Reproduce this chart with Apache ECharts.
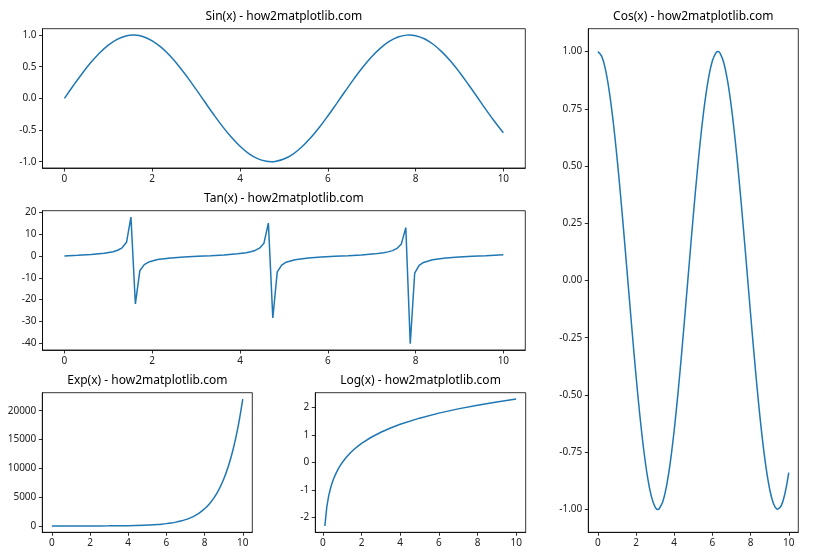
<!DOCTYPE html>
<html>
<head>
<meta charset="utf-8">
<script src="https://cdn.jsdelivr.net/npm/echarts@6.0.0/dist/echarts.min.js"></script>
<style>html,body{margin:0;padding:0;background:#fff}#c{width:840px;height:560px}</style>
</head>
<body>
<div id="c"></div>
<script>
// ---- data ----
const sinX = [0,0.2,0.4,0.6,0.8,1,1.2,1.4,1.5708,1.6,1.8,2,2.2,2.4,2.6,2.8,3,3.2,3.4,3.6,3.8,4,4.2,4.4,4.6,4.7124,4.8,5,5.2,5.4,5.6,5.8,6,6.2,6.4,6.6,6.8,7,7.2,7.4,7.6,7.8,7.854,8,8.2,8.4,8.6,8.8,9,9.2,9.4,9.6,9.8,10];
const sinY = [0,0.1987,0.3894,0.5646,0.7174,0.8415,0.9320,0.9854,1,0.9996,0.9738,0.9093,0.8085,0.6755,0.5155,0.3350,0.1411,-0.0584,-0.2555,-0.4425,-0.6119,-0.7568,-0.8716,-0.9516,-0.9937,-1,-0.9962,-0.9589,-0.8835,-0.7728,-0.6313,-0.4646,-0.2794,-0.0831,0.1165,0.3115,0.4941,0.6570,0.7937,0.8987,0.9679,0.9985,1,0.9894,0.9407,0.8546,0.7344,0.5849,0.4121,0.2229,0.0248,-0.1743,-0.3665,-0.5440];
const cosX = [0,0.2,0.4,0.6,0.8,1,1.2,1.4,1.6,1.8,2,2.2,2.4,2.6,2.8,3,3.1416,3.2,3.4,3.6,3.8,4,4.2,4.4,4.6,4.8,5,5.2,5.4,5.6,5.8,6,6.2,6.2832,6.4,6.6,6.8,7,7.2,7.4,7.6,7.8,8,8.2,8.4,8.6,8.8,9,9.2,9.4,9.4248,9.6,9.8,10];
const cosY = [1,0.9801,0.9211,0.8253,0.6967,0.5403,0.3624,0.1700,-0.0292,-0.2272,-0.4161,-0.5885,-0.7374,-0.8569,-0.9422,-0.9900,-1,-0.9983,-0.9668,-0.8968,-0.7910,-0.6536,-0.4903,-0.3073,-0.1122,0.0875,0.2837,0.4685,0.6347,0.7756,0.8855,0.9602,0.9965,1,0.9932,0.9502,0.8694,0.7539,0.6084,0.4385,0.2513,0.0540,-0.1455,-0.3392,-0.5193,-0.6787,-0.8111,-0.9111,-0.9748,-0.9997,-1,-0.9847,-0.9304,-0.8391];
const tanX = [0,0.3030,0.6061,0.9091,1.1111,1.2121,1.3131,1.4141,1.5152,1.6162,1.7172,1.8182,1.9192,2.1212,2.4242,2.7273,3.0303,3.3333,3.6364,3.9394,4.1414,4.2424,4.3434,4.4444,4.5455,4.6465,4.7475,4.8485,4.9495,5.0505,5.2525,5.5556,5.8586,6.1616,6.4646,6.7677,7.0707,7.2727,7.3737,7.4747,7.5758,7.6768,7.7778,7.8788,7.9798,8.0808,8.1818,8.3838,8.6869,8.9899,9.2929,9.5960,10];
const tanY = [0,0.3128,0.6931,1.2839,2.020,2.670,3.795,6.331,17.95,-22.03,-6.783,-3.959,-2.755,-1.629,-0.8727,-0.440,-0.1118,0.1941,0.540,1.0251,1.5566,1.968,2.587,3.643,5.935,15.14,-28.50,-7.302,-4.138,-2.844,-1.667,-0.891,-0.4521,-0.1222,0.1835,0.5264,1.004,1.522,1.918,2.509,3.501,5.584,13.10,-40.30,-7.906,-4.333,-2.939,-1.705,-0.909,-0.465,-0.1326,0.1729,0.6484];
const expX = [0,1,2,3,4,5,5.25,5.5,5.75,6,6.25,6.5,6.75,7,7.25,7.5,7.75,8,8.25,8.5,8.75,9,9.25,9.5,9.75,10];
const expY = [1,2.718,7.389,20.09,54.60,148.4,190.6,244.7,314.2,403.4,518.0,665.1,854.1,1096.6,1408.1,1808.0,2321.6,2981.0,3827.6,4914.8,6310.7,8103.1,10404.6,13359.7,17154.2,22026.5];
const logX = [0.1,0.2,0.3,0.4,0.5,0.6,0.7,0.8,0.9,1.0,1.2,1.4,1.6,1.8,2.0,2.5,3.0,3.5,4.0,5,6,7,8,9,10];
const logY = [-2.3026,-1.6094,-1.2040,-0.9163,-0.6931,-0.5108,-0.3567,-0.2231,-0.1054,0,0.1823,0.3365,0.4700,0.5878,0.6931,0.9163,1.0986,1.2528,1.3863,1.6094,1.7918,1.9459,2.0794,2.1972,2.3026];

const titles = ['Sin(x) - how2matplotlib.com','Tan(x) - how2matplotlib.com','Exp(x) - how2matplotlib.com','Log(x) - how2matplotlib.com','Cos(x) - how2matplotlib.com'];
const xTicks = [0,2,4,6,8,10];
const sinTicks = [-1,-0.5,0,0.5,1];
const tanTicks = [-40,-30,-20,-10,0,10,20];
const expTicks = [0,5000,10000,15000,20000];
const logTicks = [-2,-1,0,1,2];
const cosTicks = [-1,-0.75,-0.5,-0.25,0,0.25,0.5,0.75,1];

// ---- layout ----
const FONT = '"Noto Sans", "Open Sans", sans-serif';
const panels = [
  {grid:{left:42.5,top:28.7,width:482.8,height:139.3}, xr:[-0.5,10.5], yr:[-1.1,1.1], yt:sinTicks, fmt:v=>v.toFixed(1), data:sinX.map((x,i)=>[x,sinY[i]]), tTop:10.5, smooth:0.4},
  {grid:{left:42.5,top:210.7,width:482.8,height:139.3}, xr:[-0.5,10.5], yr:[-43.21,20.86], yt:tanTicks, fmt:v=>String(v), data:tanX.map((x,i)=>[x,tanY[i]]), tTop:192.5, smooth:false},
  {grid:{left:42.3,top:392.7,width:210,height:139.6}, xr:[-0.5,10.5], yr:[-1101.3,23127], yt:expTicks, fmt:v=>String(v), data:expX.map((x,i)=>[x,expY[i]]), tTop:375, smooth:0.4},
  {grid:{left:315.3,top:392.7,width:210.4,height:139.6}, xr:[-0.395,10.495], yr:[-2.533,2.533], yt:logTicks, fmt:v=>String(v), data:logX.map((x,i)=>[x,logY[i]]), tTop:375, smooth:false},
  {grid:{left:588.3,top:28.7,width:210,height:503.6}, xr:[-0.5,10.5], yr:[-1.1,1.1], yt:cosTicks, fmt:v=>v.toFixed(2), data:cosX.map((x,i)=>[x,cosY[i]]), tTop:10.5, smooth:0.4}
];

const option = {animation:false, backgroundColor:'#fff', title:[], grid:[], xAxis:[], yAxis:[], series:[]};
const tick = {show:true, inside:false, length:3.5, lineStyle:{color:'#000', width:0.8}};
const line = {show:true, lineStyle:{color:'#000', width:0.8}};
panels.forEach((p,i)=>{
  option.title.push({text:titles[i], left:p.grid.left + p.grid.width/2, top:p.tTop, textAlign:'center', padding:0,
    textStyle:{fontFamily:FONT, fontSize:12, fontWeight:'normal', color:'#000'}});
  option.grid.push(Object.assign({show:true, borderColor:'#000', borderWidth:0.8, containLabel:false}, p.grid));
  option.xAxis.push({type:'value', gridIndex:i, min:p.xr[0], max:p.xr[1], splitLine:{show:false},
    axisLine:Object.assign({onZero:false}, line), axisTick:Object.assign({customValues:xTicks}, tick),
    axisLabel:{customValues:xTicks, margin:6, fontFamily:FONT, fontSize:10, color:'#222', formatter:v=>String(v)}});
  option.yAxis.push({type:'value', gridIndex:i, min:p.yr[0], max:p.yr[1], splitLine:{show:false},
    axisLine:Object.assign({onZero:false}, line), axisTick:Object.assign({customValues:p.yt}, tick),
    axisLabel:{customValues:p.yt, margin:6, fontFamily:FONT, fontSize:10, color:'#222', formatter:p.fmt}});
  option.series.push({type:'line', xAxisIndex:i, yAxisIndex:i, data:p.data, symbol:'none', showSymbol:false,
    smooth:p.smooth, lineStyle:{color:'#1f77b4', width:1.5}, itemStyle:{color:'#1f77b4'}, clip:true});
});
const chart = echarts.init(document.getElementById('c'), null, {renderer:'canvas'});
chart.setOption(option);
</script>
</body>
</html>
